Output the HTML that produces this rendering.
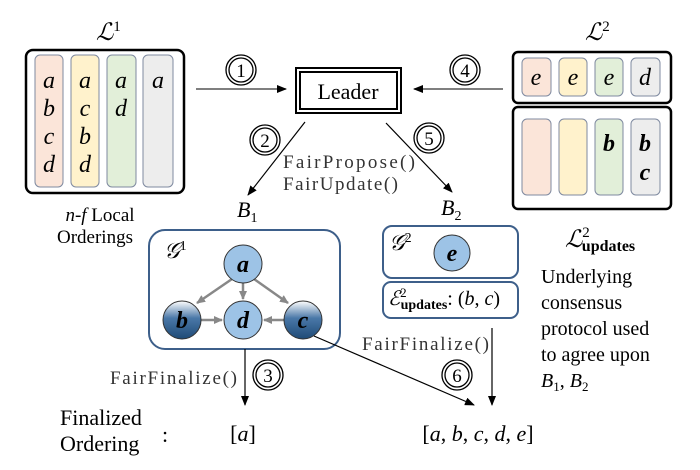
<!DOCTYPE html>
<html><head><meta charset="utf-8"><style>body{margin:0;background:#fff}svg{display:block}</style></head><body>
<svg width="700" height="470" viewBox="0 0 700 470" xmlns="http://www.w3.org/2000/svg" font-family="Liberation Serif, serif">
<defs>
<marker id="ah" markerWidth="10" markerHeight="8" refX="9" refY="4" orient="auto" markerUnits="userSpaceOnUse"><path d="M0,0 L10,4 L0,8 z" fill="#000"/></marker>
<marker id="gh" markerWidth="9" markerHeight="8" refX="8" refY="4" orient="auto" markerUnits="userSpaceOnUse"><path d="M0,0 L9,4 L0,8 z" fill="#888"/></marker>
<linearGradient id="dk" x1="0" y1="0" x2="0" y2="1"><stop offset="0" stop-color="#fff"/><stop offset="0.45" stop-color="#4a78a8"/><stop offset="1" stop-color="#1e4a76"/></linearGradient>
</defs>
<!-- L1 -->
<text x="96" y="40" font-size="24" font-style="italic">ℒ<tspan font-size="15" dy="-9" font-style="normal">1</tspan></text>
<rect x="26" y="50" width="158" height="143" rx="7" fill="#fff" stroke="#000" stroke-width="2.5"/>
<g stroke="#7f8aa0" stroke-width="1">
<rect x="35" y="55" width="28" height="132" rx="5" fill="#fbe5d9"/>
<rect x="71" y="55" width="28" height="132" rx="5" fill="#fff2cc"/>
<rect x="107" y="55" width="29" height="132" rx="5" fill="#e2efd9"/>
<rect x="143" y="55" width="30" height="132" rx="5" fill="#ededed"/>
</g>
<g font-size="24" font-style="italic" text-anchor="middle">
<text x="49" y="88">a</text><text x="49" y="116">b</text><text x="49" y="144">c</text><text x="49" y="172">d</text>
<text x="85" y="88">a</text><text x="85" y="116">c</text><text x="85" y="144">b</text><text x="85" y="172">d</text>
<text x="121" y="88">a</text><text x="121" y="116">d</text>
<text x="158" y="88">a</text>
</g>
<text x="100" y="221" font-size="19" text-anchor="middle"><tspan font-style="italic">n</tspan>-<tspan font-style="italic">f</tspan> Local</text>
<text x="95" y="243" font-size="19" text-anchor="middle">Orderings</text>
<!-- Leader -->
<rect x="296" y="68" width="105" height="45" fill="#fff" stroke="#000" stroke-width="2"/>
<rect x="300" y="72" width="97" height="37" fill="none" stroke="#000" stroke-width="2"/>
<text x="348" y="99" font-size="22" text-anchor="middle">Leader</text>
<!-- arrows 1 & 4 -->
<line x1="196" y1="89" x2="286" y2="89" stroke="#333" stroke-width="1.3" marker-end="url(#ah)"/>
<line x1="503" y1="89" x2="414" y2="89" stroke="#333" stroke-width="1.3" marker-end="url(#ah)"/>
<g fill="#fff" stroke="#000" stroke-width="1.3">
<circle cx="241" cy="70" r="15"/><circle cx="241" cy="70" r="12"/>
<circle cx="465" cy="70" r="15"/><circle cx="465" cy="70" r="12"/>
<circle cx="265" cy="140" r="15"/><circle cx="265" cy="140" r="12"/>
<circle cx="429" cy="138" r="15"/><circle cx="429" cy="138" r="12"/>
<circle cx="268" cy="375" r="15"/><circle cx="268" cy="375" r="12"/>
<circle cx="457" cy="375" r="15"/><circle cx="457" cy="375" r="12"/>
</g>
<g font-size="19" text-anchor="middle">
<text x="241" y="77">1</text><text x="465" y="77">4</text><text x="265" y="147">2</text><text x="429" y="145">5</text><text x="268" y="382">3</text><text x="457" y="382">6</text>
</g>
<!-- arrows 2 & 5 -->
<line x1="305" y1="122" x2="248" y2="195" stroke="#000" stroke-width="1.2" marker-end="url(#ah)"/>
<line x1="386" y1="123" x2="452" y2="192" stroke="#000" stroke-width="1.2" marker-end="url(#ah)"/>
<g font-size="19" fill="#333">
<text x="283" y="168" textLength="132" lengthAdjust="spacing">FairPropose()</text>
<text x="283" y="190" textLength="115" lengthAdjust="spacing">FairUpdate()</text>
</g>
<text x="237" y="217" font-size="22" font-style="italic">B<tspan font-size="14" dy="5" font-style="normal">1</tspan></text>
<text x="441" y="215" font-size="22" font-style="italic">B<tspan font-size="14" dy="5" font-style="normal">2</tspan></text>
<!-- L2 -->
<text x="585" y="40" font-size="24" font-style="italic">ℒ<tspan font-size="15" dy="-9" font-style="normal">2</tspan></text>
<rect x="513" y="52" width="158" height="51" rx="5" fill="#fff" stroke="#000" stroke-width="2.5"/>
<rect x="513" y="107" width="158" height="102" rx="5" fill="#fff" stroke="#000" stroke-width="2.5"/>
<g stroke="#7f8aa0" stroke-width="1">
<rect x="522" y="58" width="29" height="38" rx="5" fill="#fbe5d9"/>
<rect x="559" y="58" width="28" height="38" rx="5" fill="#fff2cc"/>
<rect x="595" y="58" width="28" height="38" rx="5" fill="#e2efd9"/>
<rect x="631" y="58" width="29" height="38" rx="5" fill="#ededed"/>
<rect x="522" y="119" width="29" height="76" rx="5" fill="#fbe5d9"/>
<rect x="559" y="119" width="28" height="76" rx="5" fill="#fff2cc"/>
<rect x="595" y="119" width="28" height="76" rx="5" fill="#e2efd9"/>
<rect x="631" y="119" width="29" height="76" rx="5" fill="#ededed"/>
</g>
<g font-size="24" font-style="italic" text-anchor="middle">
<text x="536" y="85">e</text><text x="573" y="85">e</text><text x="609" y="85">e</text><text x="645" y="85">d</text>
<text x="609" y="151" font-weight="bold">b</text><text x="645" y="151" font-weight="bold">b</text><text x="645" y="180" font-weight="bold">c</text>
</g>
<text x="565" y="247" font-size="24" font-style="italic">ℒ<tspan font-size="15" dy="-10" font-style="normal">2</tspan><tspan font-size="16" dx="-8" dy="14" font-style="normal" font-weight="bold">updates</tspan></text>
<g font-size="20">
<text x="541" y="283">Underlying</text>
<text x="541" y="309">consensus</text>
<text x="541" y="335">protocol used</text>
<text x="541" y="361">to agree upon</text>
<text x="541" y="387" font-style="italic">B<tspan font-size="13" dy="4" font-style="normal">1</tspan><tspan dy="-4" font-style="normal">, </tspan>B<tspan font-size="13" dy="4" font-style="normal">2</tspan></text>
</g>
<!-- G1 -->
<rect x="149" y="230" width="191" height="119" rx="16" fill="#fff" stroke="#3d5f8a" stroke-width="2"/>
<text x="164" y="258" font-size="22" font-style="italic">𝒢<tspan font-size="14" dy="-8" font-style="normal">1</tspan></text>
<g stroke="#888" stroke-width="2.5">
<line x1="232" y1="279" x2="197" y2="303" marker-end="url(#gh)"/>
<line x1="243" y1="283" x2="243" y2="299" marker-end="url(#gh)"/>
<line x1="254" y1="279" x2="288" y2="303" marker-end="url(#gh)"/>
<line x1="201" y1="320" x2="222" y2="320" marker-end="url(#gh)"/>
<line x1="284" y1="320" x2="264" y2="320" marker-end="url(#gh)"/>
</g>
<g stroke="#333" stroke-width="1">
<circle cx="243" cy="264" r="19" fill="#9dc3e6"/>
<circle cx="243" cy="320" r="19" fill="#9dc3e6"/>
<circle cx="182" cy="320" r="19" fill="url(#dk)"/>
<circle cx="303" cy="320" r="19" fill="url(#dk)"/>
</g>
<g font-size="24" font-style="italic" font-weight="bold" text-anchor="middle" fill="#000">
<text x="243" y="272">a</text><text x="243" y="328">d</text><text x="182" y="328">b</text><text x="303" y="328">c</text>
</g>
<!-- G2 -->
<rect x="383" y="226" width="135" height="52" rx="9" fill="#fff" stroke="#3d5f8a" stroke-width="2"/>
<text x="389" y="250" font-size="22" font-style="italic">𝒢<tspan font-size="14" dy="-8" font-style="normal">2</tspan></text>
<circle cx="452" cy="253" r="18" fill="#9dc3e6" stroke="#333"/>
<text x="452" y="261" font-size="24" font-style="italic" font-weight="bold" text-anchor="middle">e</text>
<rect x="383" y="282" width="135" height="36" rx="8" fill="#fff" stroke="#3d5f8a" stroke-width="2"/>
<text x="388" y="305" font-size="20" font-style="italic">ℰ<tspan font-size="13" dy="-8" font-style="normal">2</tspan><tspan font-size="14" dx="-6" dy="12" font-style="normal" font-weight="bold">updates</tspan><tspan dy="-4" font-style="normal">: (</tspan>b<tspan font-style="normal">, </tspan>c<tspan font-style="normal">)</tspan></text>
<!-- finalize arrows -->
<line x1="245" y1="349" x2="245" y2="405" stroke="#000" stroke-width="1.2" marker-end="url(#ah)"/>
<line x1="314" y1="336" x2="474" y2="405" stroke="#000" stroke-width="1.2" marker-end="url(#ah)"/>
<line x1="492" y1="328" x2="492" y2="405" stroke="#000" stroke-width="1.2" marker-end="url(#ah)"/>
<g font-size="19" fill="#333">
<text x="110" y="384" textLength="127" lengthAdjust="spacing">FairFinalize()</text>
<text x="362" y="350" textLength="127" lengthAdjust="spacing">FairFinalize()</text>
</g>
<g font-size="22">
<text x="60" y="425">Finalized</text>
<text x="60" y="451">Ordering</text>
<text x="162" y="442">:</text>
<text x="243" y="441" text-anchor="middle">[<tspan font-style="italic">a</tspan>]</text>
<text x="478" y="441" text-anchor="middle">[<tspan font-style="italic">a</tspan>, <tspan font-style="italic">b</tspan>, <tspan font-style="italic">c</tspan>, <tspan font-style="italic">d</tspan>, <tspan font-style="italic">e</tspan>]</text>
</g>
</svg>
</body></html>
